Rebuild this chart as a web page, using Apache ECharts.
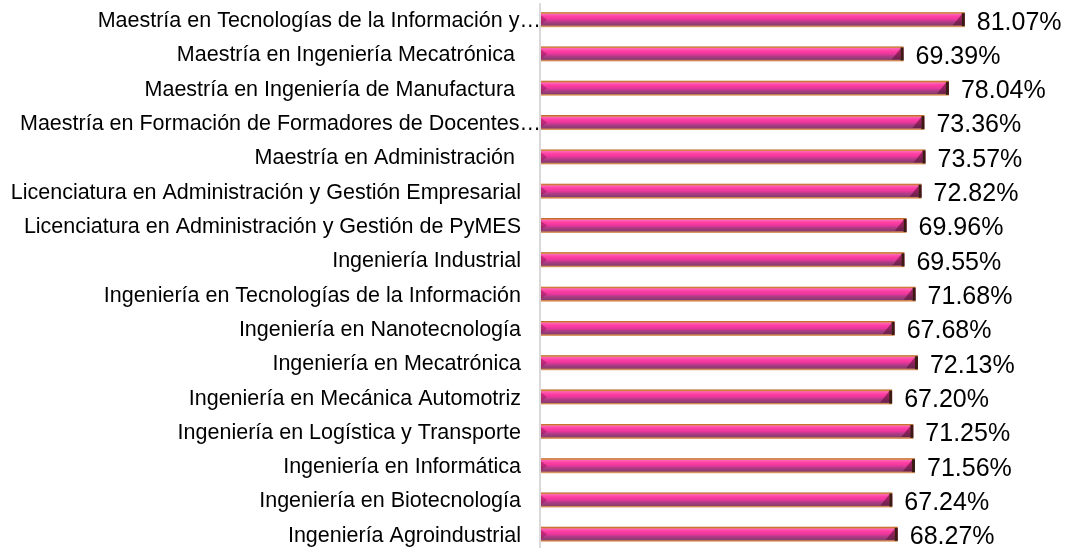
<!DOCTYPE html>
<html>
<head>
<meta charset="utf-8">
<script src="https://cdn.jsdelivr.net/npm/echarts@6/dist/echarts.min.js"></script>
<style>
html,body{margin:0;padding:0;background:#ffffff;}
#chart{width:1068px;height:548px;}
</style>
</head>
<body>
<div id="chart"></div>
<script>
const categories = [
  "Maestría en Tecnologías de la Información y…",
  "Maestría en Ingeniería Mecatrónica ",
  "Maestría en Ingeniería de Manufactura ",
  "Maestría en Formación de Formadores de Docentes…",
  "Maestría en Administración ",
  "Licenciatura en Administración y Gestión Empresarial",
  "Licenciatura en Administración y Gestión de PyMES",
  "Ingeniería Industrial",
  "Ingeniería en Tecnologías de la Información",
  "Ingeniería en Nanotecnología",
  "Ingeniería en Mecatrónica",
  "Ingeniería en Mecánica Automotriz",
  "Ingeniería en Logística y Transporte",
  "Ingeniería en Informática",
  "Ingeniería en Biotecnología",
  "Ingeniería Agroindustrial"
];
const values = [81.07, 69.39, 78.04, 73.36, 73.57, 72.82, 69.96, 69.55, 71.68, 67.68, 72.13, 67.20, 71.25, 71.56, 67.24, 68.27];

const chart = echarts.init(document.getElementById('chart'));
const FONT = '"Liberation Sans", Arial, Helvetica, sans-serif';
const BAR_H = 15;

function barGradient() {
  return new echarts.graphic.LinearGradient(0, 0, 0, 1, [
    {offset: 0.00, color: '#b8581c'},
    {offset: 0.08, color: '#d8894a'},
    {offset: 0.14, color: '#ff62b8'},
    {offset: 0.30, color: '#ff3ea2'},
    {offset: 0.50, color: '#e8369c'},
    {offset: 0.65, color: '#b03c86'},
    {offset: 0.86, color: '#8a3b70'},
    {offset: 0.92, color: '#c98550'},
    {offset: 1.00, color: '#e6a877'}
  ]);
}

chart.setOption({
  backgroundColor: '#ffffff',
  animation: false,
  grid: {left: 540, right: 4, top: 4, height: 549, containLabel: false, outerBoundsMode: 'none'},
  xAxis: {
    type: 'value', min: 0, max: 100, show: false
  },
  yAxis: {
    type: 'category',
    data: categories,
    inverse: true,
    axisLine: {show: true, lineStyle: {color: '#d9d9d9', width: 2}},
    axisTick: {show: false},
    axisLabel: {
      color: '#000000', fontSize: 21.5, fontFamily: FONT, margin: 19,
      formatter: function (v) {
        return v.endsWith('…') ? '{o|' + v + '}' : v;
      },
      rich: {
        o: {color: '#000000', fontSize: 21.5, fontFamily: FONT, padding: [0, -20, 0, 0]}
      }
    }
  },
  series: [{
    type: 'custom',
    encode: {x: 0, y: 1},
    data: values.map((v, i) => [v, i]),
    renderItem: function (params, api) {
      const v = api.value(0);
      const cat = api.value(1);
      const s = api.coord([0, cat]);
      const e = api.coord([v, cat]);
      const x0 = s[0] + 1, x1 = e[0], yc = s[1] - 1.5;
      const y0 = yc - BAR_H / 2;
      return {
        type: 'group',
        children: [
          {type: 'rect', shape: {x: x0, y: y0, width: x1 - x0, height: BAR_H},
           style: {fill: barGradient()}},
          {type: 'polygon', shape: {points: [[x0, y0 + 3], [x0 + 6, y0 + BAR_H / 2], [x0, y0 + BAR_H - 3]]},
           style: {fill: 'rgba(150,30,90,0.55)'}},
          {type: 'polygon', shape: {points: [[x1 - 12, y0 + BAR_H - 2], [x1 - 3, y0 + 2], [x1 - 3, y0 + BAR_H - 2]]},
           style: {fill: 'rgba(80,15,45,0.55)'}},
          {type: 'rect', shape: {x: x1 - 3, y: y0 + 1, width: 3, height: BAR_H - 2},
           style: {fill: '#3a1c12'}},
          {type: 'text', x: x1 + 12, y: yc + 3,
           style: {text: v.toFixed(2) + '%', fill: '#000000', font: '25px ' + FONT,
                   textAlign: 'left', textVerticalAlign: 'middle', verticalAlign: 'middle'}}
        ]
      };
    }
  }]
});
</script>
</body>
</html>
